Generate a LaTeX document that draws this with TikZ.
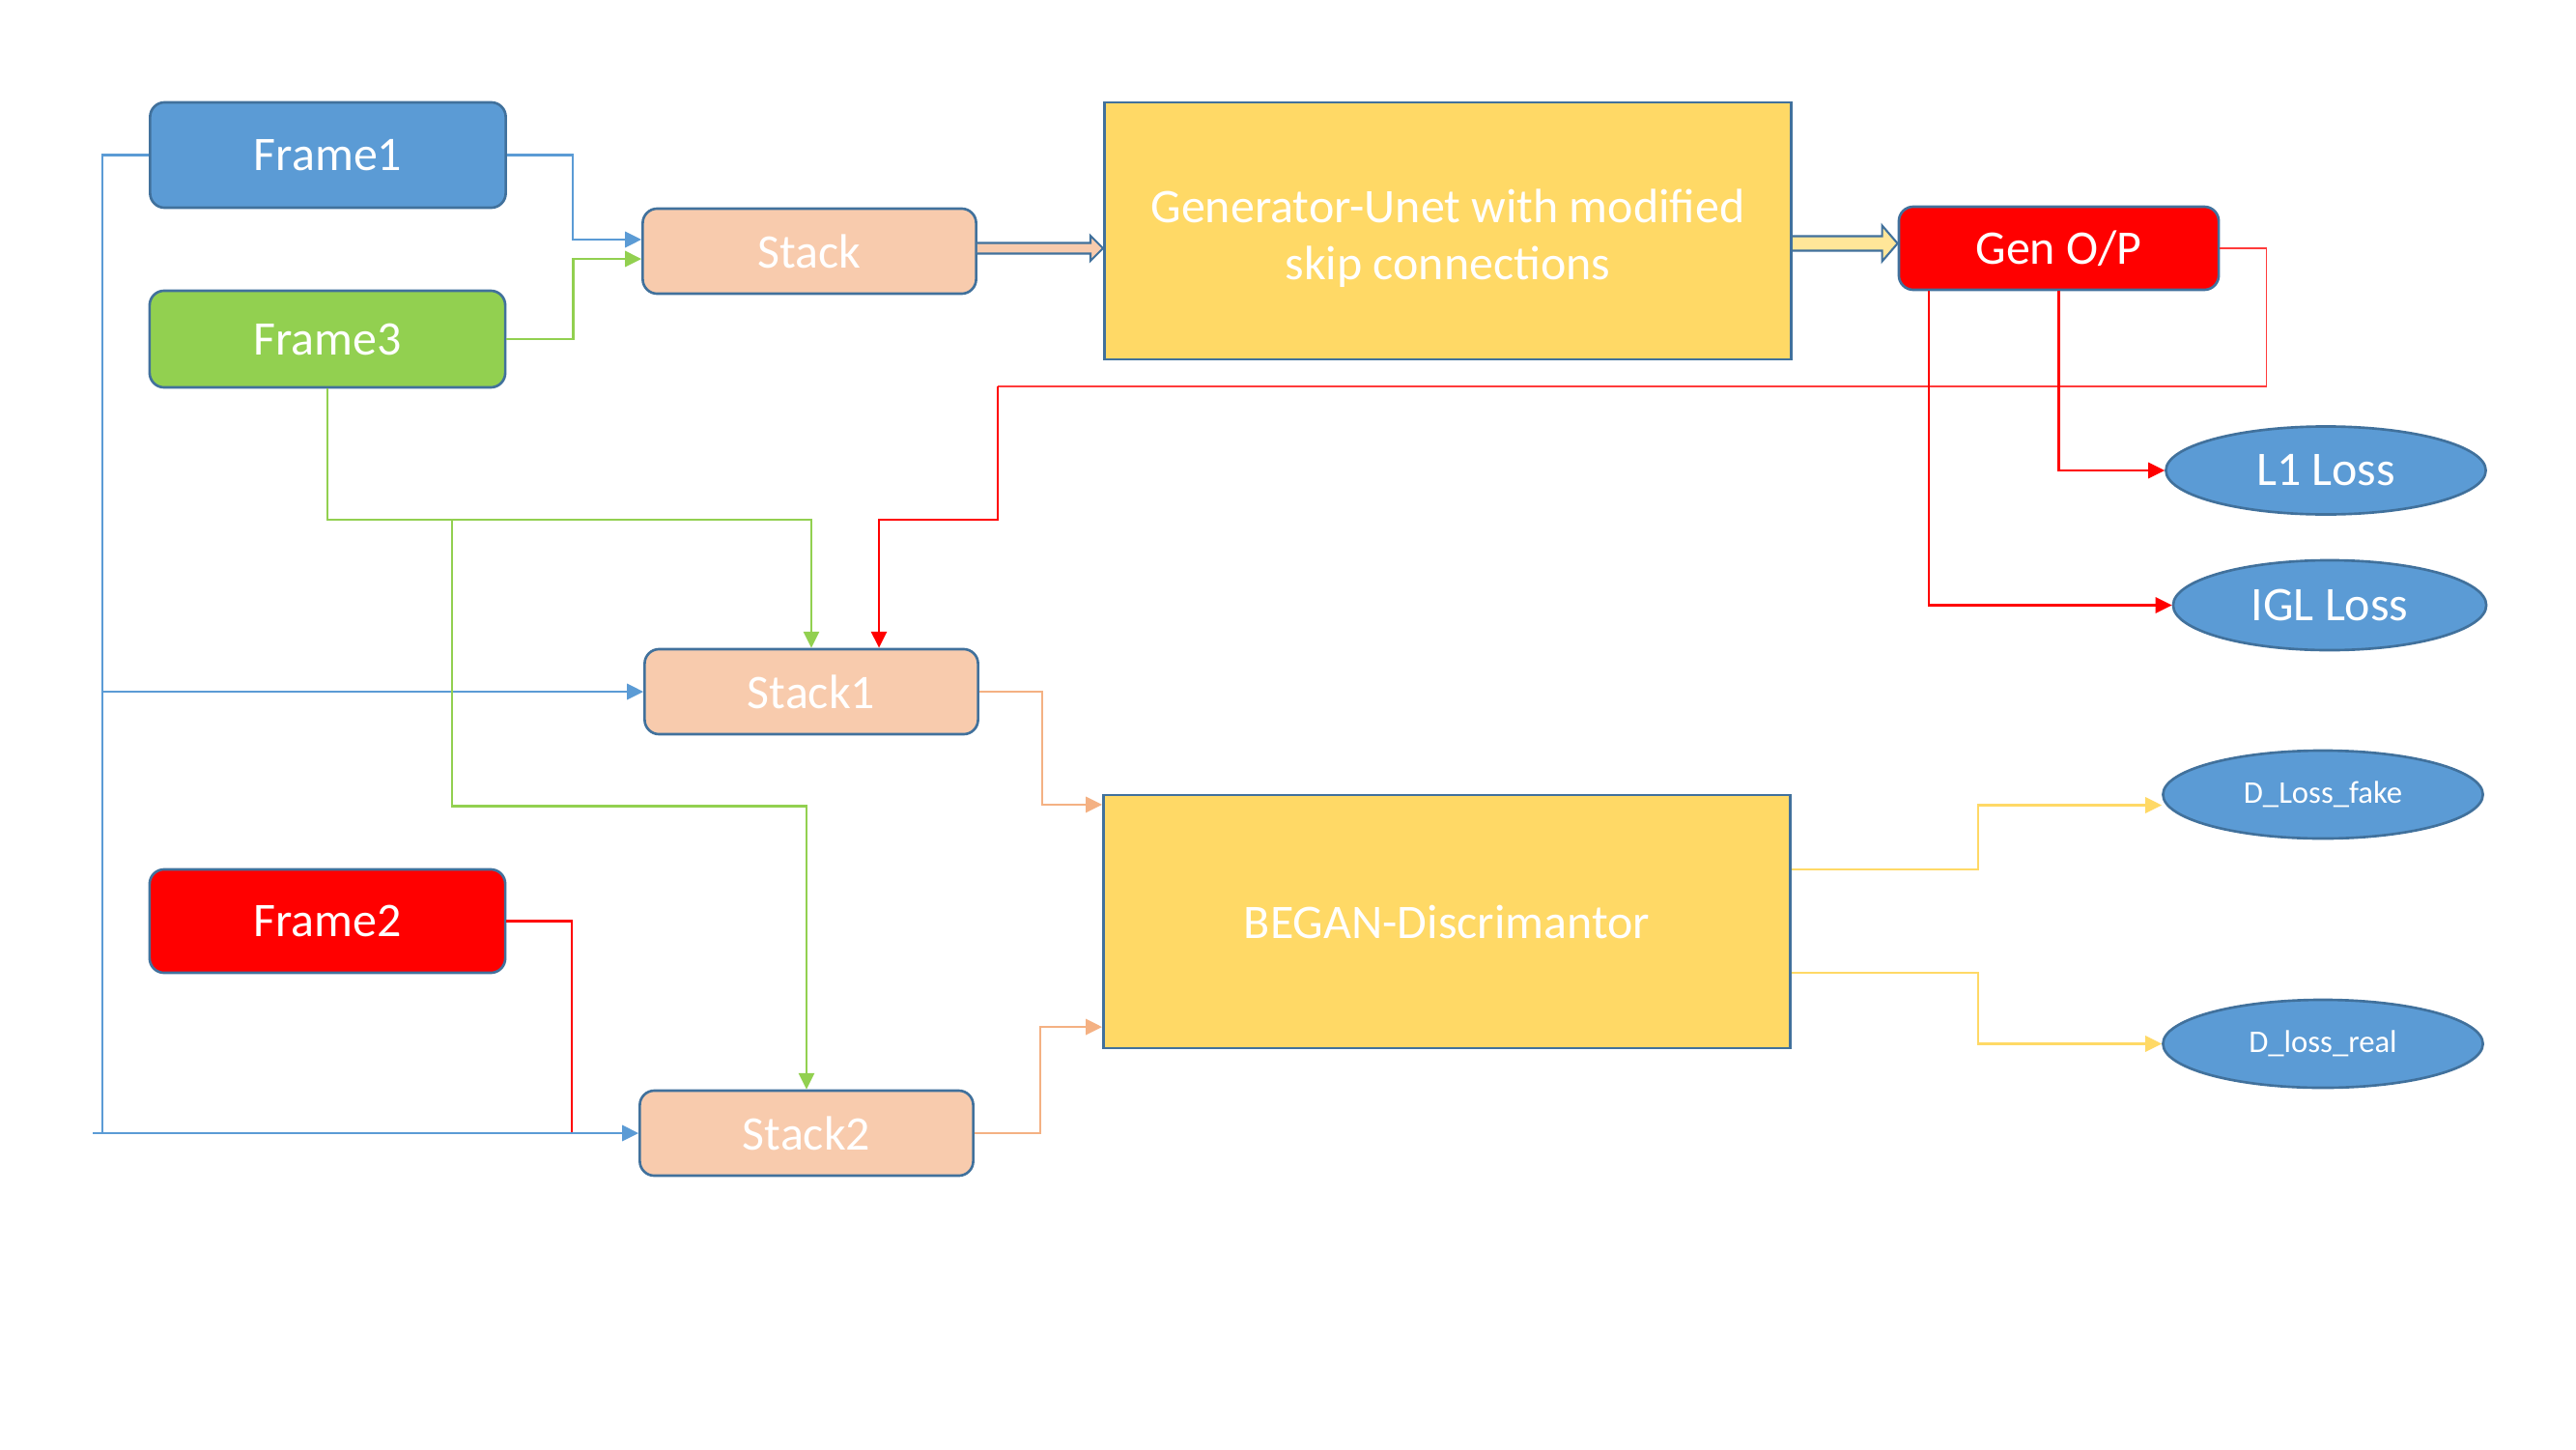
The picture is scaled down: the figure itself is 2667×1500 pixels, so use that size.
\documentclass[tikz,border=0pt]{standalone}
\usepackage{fontspec}
\setmainfont{Carlito}
\usetikzlibrary{shapes.geometric,arrows.meta,calc}
\definecolor{bdr}{HTML}{41719C}
\definecolor{fblue}{HTML}{5B9BD5}
\definecolor{fgreen}{HTML}{92D050}
\definecolor{fpeach}{HTML}{F8CBAD}
\definecolor{lpeach}{HTML}{F4B183}
\definecolor{fyellow}{HTML}{FFD966}
\definecolor{lyellow}{HTML}{FFE699}
\definecolor{thinred}{HTML}{FF3B3B}
\tikzset{
  txt/.style={text=white, font=\fontsize{14.2}{16.8}\selectfont},
  box/.style={draw=bdr, line width=0.75pt, rounded corners=0.15cm, inner sep=0pt, txt},
  framebox/.style={box, minimum width=3.68cm},
  stackbox/.style={box, fill=fpeach, minimum width=3.45cm, minimum height=0.88cm},
  bigbox/.style={draw=bdr, line width=0.75pt, fill=fyellow, inner sep=0pt, align=center, txt, minimum width=7.11cm},
  loss/.style={ellipse, draw=bdr, line width=0.75pt, fill=fblue, inner sep=0pt, txt, minimum width=3.31cm, minimum height=0.91cm},
  smallloss/.style={loss, font=\fontsize{9.3}{11}\selectfont},
  tip/.style={-{Triangle[length=4.8pt,width=4.6pt]}},
  bluel/.style={draw=fblue, line width=0.7pt},
  greenl/.style={draw=fgreen, line width=0.65pt},
  redl/.style={draw=red, line width=0.7pt},
  thinredl/.style={draw=thinred, line width=0.45pt},
  peachl/.style={draw=lpeach, line width=0.7pt},
  yell/.style={draw=fyellow, line width=0.7pt},
  fatarrow/.style={draw=bdr, line width=0.6pt},
}
\begin{document}
\begin{tikzpicture}[x=0.01cm, y=-0.01cm]
\fill[white] (0,0) rectangle (2667,1500);
\useasboundingbox (0,0) rectangle (2667,1500);

% nodes
\node[framebox, fill=fblue, minimum height=1.09cm] (f1) at (339.5,160.5) {Frame1};
\node[framebox, fill=fgreen, minimum height=1.00cm] (f3) at (339,351) {Frame3};
\node[framebox, fill=red, minimum height=1.07cm] (f2) at (339,953.5) {Frame2};
\node[stackbox] (stack) at (838,260) {Stack};
\node[stackbox] (stack1) at (840,716) {Stack1};
\node[stackbox] (stack2) at (835,1173) {Stack2};
\node[bigbox, minimum height=2.66cm] (gen) at (1499,239) {\rule{0pt}{14pt}Generator-Unet with modified\\skip connections};
\node[bigbox, minimum height=2.62cm] (began) at (1498,954) {BEGAN-Discrimantor};
\node[box, fill=red, minimum width=3.31cm, minimum height=0.86cm] (genop) at (2131.5,257) {Gen O/P};
\node[loss] (l1) at (2408,487) {L1 Loss};
\node[loss, minimum width=3.24cm, minimum height=0.93cm] (igl) at (2412,626.5) {IGL Loss};
\node[smallloss] (dfake) at (2405,822.5) {D\_Loss\_fake};
\node[smallloss] (dreal) at (2405,1080.5) {D\_loss\_real};

% helper coordinates
\coordinate (bj) at (106,716);
\coordinate (bb) at (106,1173);
\coordinate (bl) at (96,1173);
\coordinate (rj) at (1033,400);
\coordinate (rj2) at (592,1173);

% fat arrows
\coordinate (s0) at ([yshift=0.03cm]stack.east);
\coordinate (s1) at (gen.west |- s0);
\filldraw[fatarrow, fill=fpeach] ($(s0)+(0,-5.5)$) -- ($(s1)+(-13,-5.5)$) -- ($(s1)+(-13,-13)$) -- (s1) -- ($(s1)+(-13,13)$) -- ($(s1)+(-13,5.5)$) -- ($(s0)+(0,5.5)$);
\coordinate (g1) at ([yshift=0.05cm]genop.west);
\coordinate (g0) at (gen.east |- g1);
\filldraw[fatarrow, fill=lyellow] ($(g0)+(0,-7.5)$) -- ($(g1)+(-16,-7.5)$) -- ($(g1)+(-16,-18.5)$) -- (g1) -- ($(g1)+(-16,18.5)$) -- ($(g1)+(-16,7.5)$) -- ($(g0)+(0,7.5)$);

% red connectors
\draw[redl] (f2.east) -| (rj2);
\draw[thinredl] (genop.east) -- ++(48,0) |- (rj);
\draw[redl, tip] (rj) -- ++(0,138) -| ([xshift=0.70cm]stack1.north);
\draw[redl, tip] (genop.south) |- (l1.west);
\draw[redl, tip] ([xshift=-1.345cm]genop.south) |- (igl.west);

% blue connectors
\draw[bluel, tip] (f1.west) -| (bj) -- (stack1.west);
\draw[draw=fblue, line width=0.35pt] (bj) -- (bb);
\draw[bluel, tip] (bl) -- (stack2.west);
\draw[bluel, tip] (f1.east) -- ++(68,0) |- ([yshift=0.12cm]stack.west);

% green connectors
\draw[greenl, tip] (f3.east) -- ++(69,0) |- ([yshift=-0.08cm]stack.west);
\draw[greenl, tip] (f3.south) -- ++(0,136) coordinate (gj) -| (stack1.north);
\draw[greenl, tip] ([xshift=1.29cm]gj) -- ++(0,296) -| (stack2.north);

% peach connectors
\draw[peachl, tip] (stack1.east) -- ++(65,0) |- ([yshift=1.21cm]began.west);
\draw[peachl, tip] (stack2.east) -- ++(68,0) |- ([yshift=-1.09cm]began.west);

% yellow connectors
\draw[yell, tip] ([yshift=0.54cm]began.east) -- ++(193,0) |- ([yshift=-0.11cm]dfake.west);
\draw[yell, tip] ([yshift=-0.53cm]began.east) -- ++(193,0) |- (dreal.west);
\end{tikzpicture}
\end{document}
